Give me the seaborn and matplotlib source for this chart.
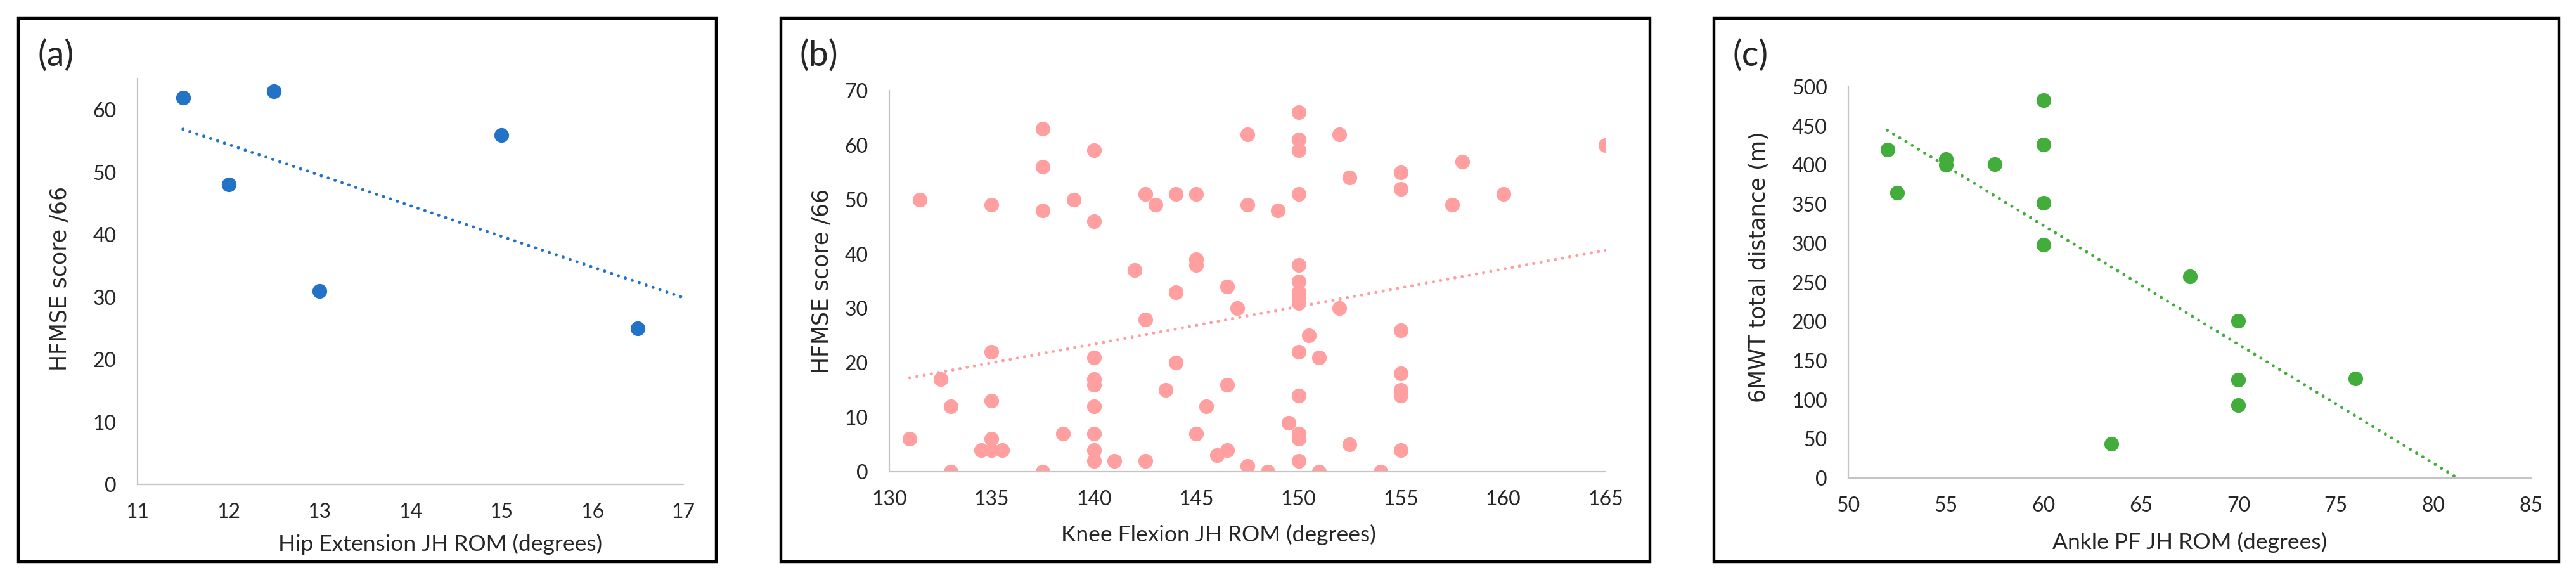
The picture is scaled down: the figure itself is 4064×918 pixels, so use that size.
import numpy as np
import pandas as pd
import seaborn as sns
import matplotlib.pyplot as plt
from matplotlib.patches import Rectangle

# (a) hip extension vs HFMSE
hip_rom = [11.5, 12, 12.5, 13, 15, 16.5]
hip_hfmse = [62, 48, 63, 31, 56, 25]

# (b) knee flexion vs HFMSE
knee_rom = [131.5, 131, 132.5, 133, 133,
            135, 135, 135, 135, 134.5, 135, 135.5,
            137.5, 137.5, 137.5, 137.5, 139, 138.5,
            140, 140, 140, 140, 140, 140, 140, 140, 140,
            141, 142, 142.5, 142.5, 142.5, 143,
            144, 144, 144, 143.5, 145, 145, 145, 145, 145.5,
            146.5, 146.5, 146.5, 146, 147,
            147.5, 147.5, 147.5, 148.5, 149, 149.5,
            150, 150, 150, 150, 150, 150, 150, 150, 150, 150, 150, 150, 150, 150,
            150.5, 151, 151,
            152, 152.5, 152, 152.5, 154,
            155, 155, 155, 155, 155, 155, 155,
            157.5, 158, 160, 165]
knee_hfmse = [50, 6, 17, 12, 0,
              49, 22, 13, 6, 4, 4, 4,
              63, 56, 48, 0, 50, 7,
              59, 46, 21, 17, 16, 12, 7, 4, 2,
              2, 37, 51, 28, 2, 49,
              51, 33, 20, 15, 51, 39, 38, 7, 12,
              34, 16, 4, 3, 30,
              62, 49, 1, 0, 48, 9,
              66, 61, 59, 51, 38, 35, 33, 32, 31, 22, 14, 7, 6, 2,
              25, 21, 0,
              62, 54, 30, 5, 0,
              55, 52, 26, 18, 15, 14, 4,
              49, 57, 51, 60]

# (c) ankle PF vs 6MWT
ankle_rom = [52, 52.5, 55, 55, 57.5, 60, 60, 60, 60, 63.5, 67.5, 70, 70, 70, 76]
ankle_6mwt = [420, 365, 408, 400, 401, 483, 426, 352, 298, 44, 258, 201, 126, 93, 127]

W, H = 4064, 918
sns.set_style("white")
plt.rcParams['font.family'] = ['Lato', 'DejaVu Sans']

fig = plt.figure(figsize=(W / 100, H / 100), dpi=100)


def fig_box(l, t, r, b):
    return [l / W, 1 - b / H, (r - l) / W, (b - t) / H]


def draw_panel(frame, axpos, x, y, color, xlim, ylim, xticks, yticks, fit_end,
               letter, ylabel, ylab_xy, xlabel, xlab_xy):
    l, t, r, b = frame
    fig.patches.append(Rectangle((l / W, 1 - b / H), (r - l) / W, (b - t) / H,
                                 transform=fig.transFigure, fill=False,
                                 edgecolor='black', linewidth=3.2))
    ax = fig.add_axes(fig_box(*axpos))
    df = pd.DataFrame({'x': x, 'y': y})
    sns.scatterplot(data=df, x='x', y='y', ax=ax, color=color, s=280,
                    linewidth=0, zorder=2, legend=False)
    # linear trend line (least squares), like the spreadsheet trendline
    coef = np.polyfit(df['x'], df['y'], 1)
    xs = np.array([df['x'].min(), fit_end])
    ax.plot(xs, np.polyval(coef, xs), color=color, lw=3.6,
            linestyle=(0, (0.001, 2.3)), dash_capstyle='round', zorder=3)
    ax.set_xlim(xlim)
    ax.set_ylim(ylim)
    ax.set_xticks(xticks)
    ax.set_yticks(yticks)
    ax.set_xlabel('')
    ax.set_ylabel('')
    for s in ['top', 'right']:
        ax.spines[s].set_visible(False)
    for s in ['left', 'bottom']:
        ax.spines[s].set_color('#c4c4c4')
        ax.spines[s].set_linewidth(1.6)
    ax.tick_params(axis='both', length=0, labelsize=23)
    ax.tick_params(axis='x', pad=21)
    ax.tick_params(axis='y', pad=24)
    fig.text((l + 30) / W, 1 - 88 / H, letter, fontsize=40, ha='left', va='center')
    fig.text(ylab_xy[0] / W, 1 - ylab_xy[1] / H, ylabel, rotation=90,
             fontsize=25, family='DejaVu Sans', ha='center', va='center')
    fig.text(xlab_xy[0] / W, 1 - xlab_xy[1] / H, xlabel, fontsize=25.5,
             ha='center', va='center')
    return ax


draw_panel((29, 29, 1130, 886), (217, 124, 1078, 764), hip_rom, hip_hfmse,
           '#2272c8', (11, 17), (0, 65), range(11, 18), range(0, 61, 10), 17,
           '(a)', 'HFMSE score /66', (95, 439),
           'Hip Extension JH ROM (degrees)', (695, 858))

draw_panel((1232, 29, 2603, 886), (1403, 143, 2533, 744), knee_rom, knee_hfmse,
           '#ff9f9f', (130, 165), (0, 70), range(130, 166, 5), range(0, 71, 10), 165,
           '(b)', 'HFMSE score /66', (1296, 443),
           'Knee Flexion JH ROM (degrees)', (1922, 843))

draw_panel((2704, 29, 4037, 886), (2916, 137, 3993, 754), ankle_rom, ankle_6mwt,
           '#43ad3c', (50, 85), (0, 500), range(50, 86, 5), range(0, 501, 50), 85,
           '(c)', '6MWT total distance (m)', (2775, 421),
           'Ankle PF JH ROM (degrees)', (3455, 855))

fig.savefig('out.png', dpi=100, facecolor='white')
